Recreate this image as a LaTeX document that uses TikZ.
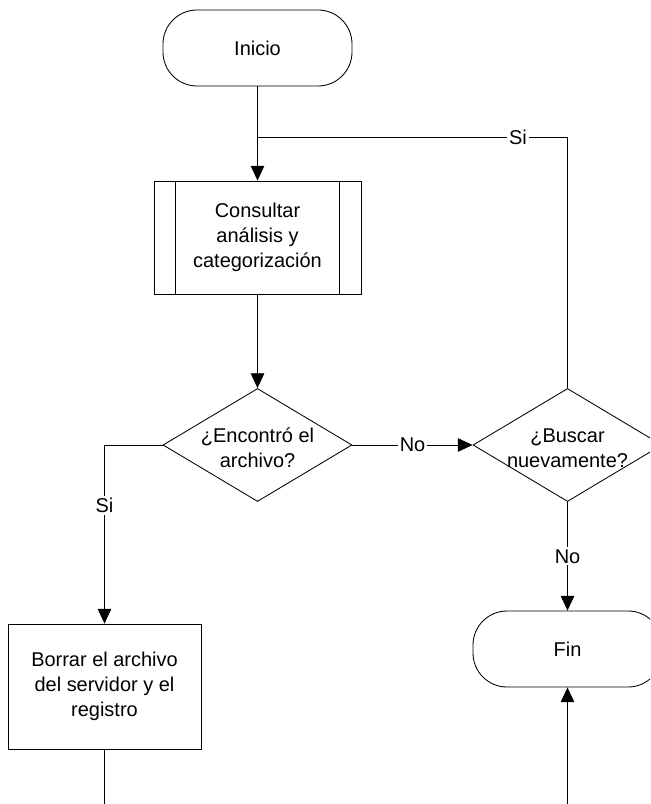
\documentclass[tikz,border=0pt]{standalone}
\usepackage{fontspec}
\setmainfont{Liberation Sans}
\usetikzlibrary{arrows.meta, shapes.geometric}

\begin{document}
\begin{tikzpicture}[
    font=\fontsize{14.2}{17.8}\selectfont,
    line width=0.6pt,
    >={Triangle[length=0.37cm, width=0.34cm]},
    terminal/.style={draw, rectangle, rounded corners=0.85cm, minimum width=4.725cm,
                     minimum height=1.9cm, align=center, fill=white},
    process/.style={draw, rectangle, align=center, fill=white, inner sep=0pt},
    decision/.style={draw, diamond, minimum width=4.725cm, minimum height=2.825cm,
                     inner sep=0pt, fill=white},
    flowlbl/.style={fill=white, inner sep=1.5pt}
  ]
  % page frame, shapes on the right run off the edge
  \useasboundingbox (0,0) rectangle (16.25,-20.1);
  \clip (0,0) rectangle (16.25,-20.1);

  % Start / end terminals
  \node[terminal] (inicio) at (6.4375,-1.2) {Inicio};
  \node[terminal] (fin) at (14.1875,-16.225) {Fin};

  % Predefined process with side bars
  \node[process, minimum width=5.175cm, minimum height=2.825cm] (consultar)
       at (6.4375,-5.9375) {Consultar\\análisis y\\categorización};
  \draw ([xshift=0.55cm]consultar.north west) -- ([xshift=0.55cm]consultar.south west);
  \draw ([xshift=-0.55cm]consultar.north east) -- ([xshift=-0.55cm]consultar.south east);

  % Decisions
  \node[decision, label={[align=center, yshift=-2pt]center:¿Encontró el\\archivo?}]
       (encontro) at (6.4375,-11.125) {};
  \node[decision, label={[align=center, yshift=-2pt]center:¿Buscar\\nuevamente?}]
       (buscar) at (14.1875,-11.125) {};

  % Delete step
  \node[process, minimum width=4.825cm, minimum height=3.125cm] (borrar)
       at (2.6125,-17.1625) {Borrar el archivo\\del servidor y el\\registro};

  % Helper points
  \coordinate (join) at (6.4375,-3.425);
  \coordinate (offleft) at (borrar.south |- 0,-20.3);
  \coordinate (offright) at (fin.south |- 0,-20.3);

  % Connectors
  \draw[->] (inicio) -- (consultar);
  \draw[->] (consultar) -- (encontro);
  \draw[->] (encontro) -- node[flowlbl] {No} (buscar);
  \draw[->] (encontro.west) -| node[flowlbl, pos=0.67] {Si} (borrar.north);
  \draw[->] (buscar) -- node[flowlbl] {No} (fin);
  \draw (buscar.north) |- node[flowlbl, pos=0.58] {Si} (join);
  \draw (borrar.south) -- (offleft);
  \draw[->] (offright) -- (fin.south);
\end{tikzpicture}
\end{document}
